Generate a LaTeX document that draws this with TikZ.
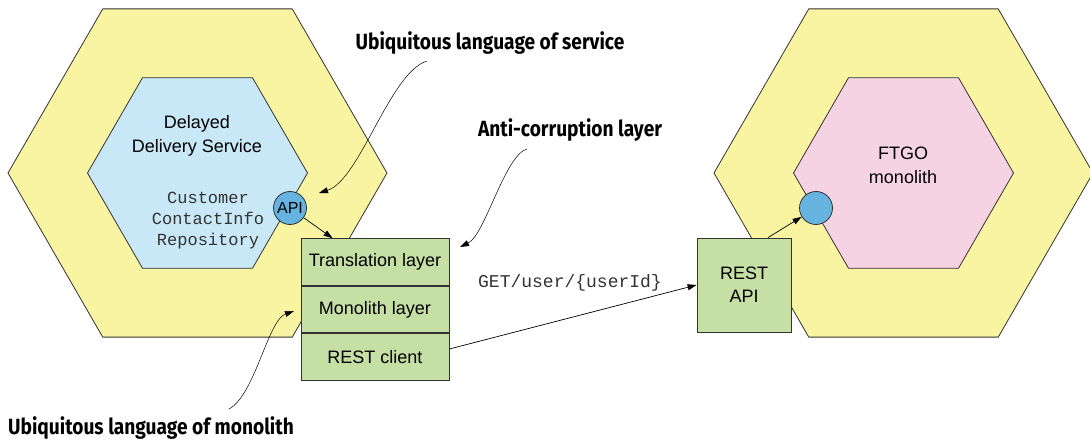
\documentclass[tikz,border=0pt]{standalone}
\usepackage{fontspec}
\setmainfont{Liberation Sans}
\setmonofont{Liberation Mono}
\newfontfamily\calloutfont[FakeStretch=0.87]{Fira Sans}
\usetikzlibrary{shapes.geometric,positioning,arrows.meta,calc}

\definecolor{hexyellow}{HTML}{F9F4A1}
\definecolor{svcblue}{HTML}{C8E8F8}
\definecolor{monopink}{HTML}{F5D3E3}
\definecolor{layergreen}{HTML}{C5DFA5}
\definecolor{portblue}{HTML}{66B3E0}
\definecolor{edge}{HTML}{333333}

\begin{document}
\begin{tikzpicture}[x=1pt, y=-1pt,
    hexa/.style={regular polygon, regular polygon sides=6, draw=edge, line width=0.8pt, inner sep=0pt},
    outerhex/.style={hexa, fill=hexyellow, minimum size=379pt},
    innerhex/.style={hexa, minimum size=220pt},
    port/.style={circle, draw=edge, line width=0.8pt, fill=portblue, minimum size=33pt, inner sep=0pt, font=\fontsize{16}{16}\selectfont},
    layer/.style={draw=edge, line width=0.8pt, fill=layergreen, minimum width=148pt, minimum height=46.7pt, inner sep=0pt, font=\fontsize{18}{18}\selectfont},
    callout/.style={font=\calloutfont\bfseries\fontsize{22}{22}\selectfont},
    arrow/.style={-{Triangle[length=9pt, width=6pt]}, line width=0.7pt},
]
\useasboundingbox (0,0) rectangle (1090,441);

% service side
\node[outerhex] (outerL) at (197.5,173) {};
\node[innerhex, fill=svcblue] (innerL) at (197.5,173) {};
\node[align=center, font=\fontsize{18}{24}\selectfont] (svcname) at (197,136) {Delayed\\Delivery Service};
\node[align=center, font=\ttfamily\fontsize{17}{21}\selectfont, text=black!80] (repo) at (208,221) {Customer\\ContactInfo\\Repository};
\node[port] (apiL) at (290,208) {API};

% monolith side
\node[outerhex] (outerR) at (903.5,173) {};
\node[innerhex, fill=monopink] (innerR) at (903.5,173) {};
\node[align=center, font=\fontsize{18}{24}\selectfont] (ftgo) at (903,165) {FTGO\\monolith};
\node[port] (apiR) at (816,208) {};
\node[layer, minimum width=94pt, minimum height=94pt, align=center, font=\fontsize{18}{23}\selectfont] (restapi) at (744,285) {REST\\API};

% anti-corruption layer
\node[layer] (trans) at (375,262) {Translation layer};
\node[layer, below=0pt of trans] (monolayer) {Monolith layer};
\node[layer, below=0pt of monolayer] (client) {REST client};

\draw[arrow] (apiL) -- ($(trans.north west)+(32,0)$);
\draw[arrow] ($(restapi.north)+(24,0)$) -- (apiR);
\draw[arrow] ($(client.east)+(0,-8)$) -- (restapi.west);
\node[font=\ttfamily\fontsize{18}{18}\selectfont, text=black!80] (getuser) at (570,283) {GET/user/\{userId\}};

% callouts
\node[callout] (lblsvc) at (490,43) {Ubiquitous language of service};
\node[callout] (lblacl) at (570,130) {Anti-corruption layer};
\node[callout] (lblmono) at (151,428) {Ubiquitous language of monolith};

\coordinate (svcfrom) at (427,61);
\coordinate (svcto) at (319,193);
\coordinate (aclfrom) at (527,149);
\coordinate (aclto) at (460,247);
\coordinate (monofrom) at (229,409);
\coordinate (monoto) at (294,311);
\draw[arrow, line width=0.5pt] (svcfrom) .. controls (390,72) and (360,180) .. (svcto);
\draw[arrow, line width=0.5pt] (aclfrom) .. controls (505,155) and (485,235) .. (aclto);
\draw[arrow, line width=0.5pt] (monofrom) .. controls (255,395) and (268,320) .. (monoto);
\end{tikzpicture}
\end{document}
